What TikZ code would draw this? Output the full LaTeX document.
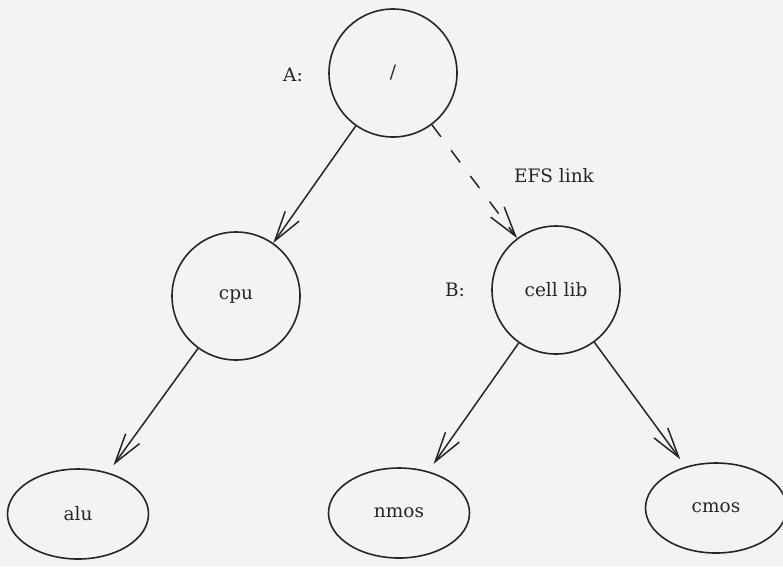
\documentclass[tikz,border=0pt]{standalone}
\usepackage{fontspec}
\setmainfont{DejaVu Serif}
\usetikzlibrary{shapes.geometric,arrows.meta}
\definecolor{ink}{HTML}{262626}
\definecolor{paper}{HTML}{F3F3F3}
\tikzset{
  every node/.style={text=ink, font=\fontsize{18.5}{22}\selectfont},
  dirnode/.style={circle, draw=ink, line width=1.6pt, minimum size=128pt, inner sep=0pt},
  filenode/.style={ellipse, draw=ink, line width=1.6pt, minimum width=141pt, minimum height=90pt, inner sep=0pt},
  link/.style={draw=ink, line width=1.5pt, -{Straight Barb[length=30pt, width=17pt, line width=1.5pt]}},
  efs/.style={link, dash pattern=on 15pt off 17pt},
  tofile/.style={link, shorten >=9pt}
}
\begin{document}
\begin{tikzpicture}[x=1pt, y=-1pt]
  \fill[paper] (0,0) rectangle (783,566);
  \useasboundingbox (0,0) rectangle (783,566);

  \node[dirnode] (A) at (393,73) {/};
  \node (labA) at (293,75) {A:};
  \node[dirnode] (cpu) at (236,296) {cpu};
  \node[dirnode] (cell) at (556,290) {cell lib};
  \node (labB) at (455,290) {B:};
  \node[filenode] (alu) at (78,514) {alu};
  \node[filenode] (nmos) at (399,513) {nmos};
  \node[filenode] (cmos) at (716,508) {cmos};
  \node (efslabel) at (554,176) {EFS link};

  \draw[link] (A) -- (cpu);
  \draw[efs] (A) -- (cell);
  \draw[tofile] (cpu) -- (alu);
  \draw[tofile] (cell) -- (nmos);
  \draw[tofile] (cell) -- (cmos);
\end{tikzpicture}
\end{document}
